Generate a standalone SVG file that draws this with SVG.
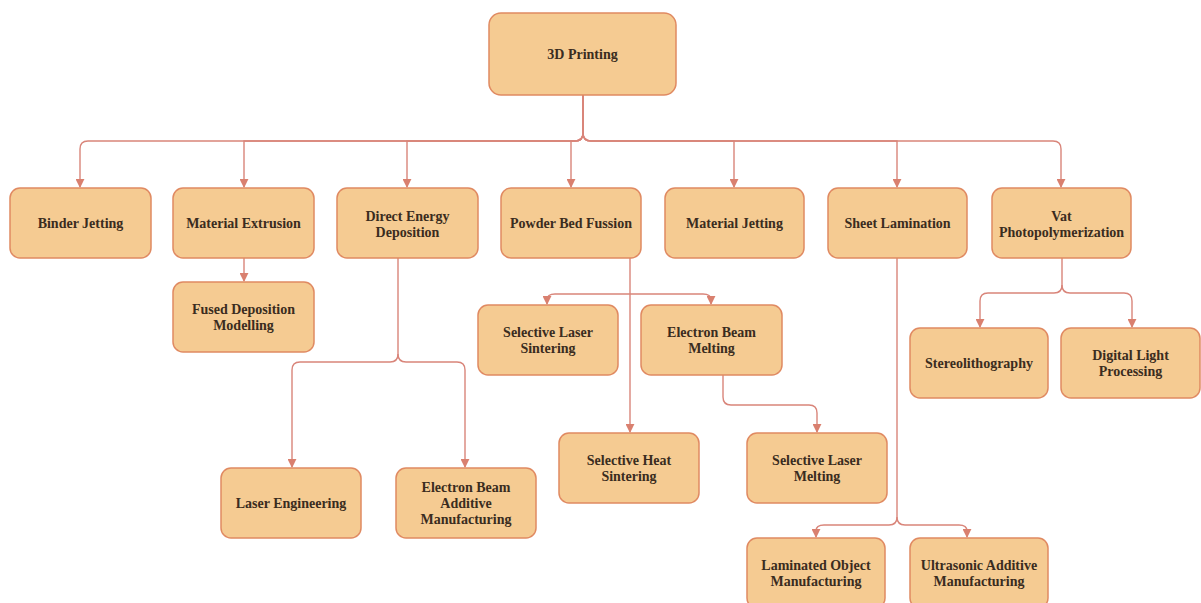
<svg xmlns="http://www.w3.org/2000/svg" width="1201" height="603" viewBox="0 0 1201 603">
  <style>
    .box { fill: #f5cb92; stroke: #e08a62; stroke-width: 1.5; }
    .lbl { font-family: "Liberation Serif", "Times New Roman", serif; font-weight: bold; font-size: 14px; fill: #3a2c20; text-anchor: middle; }
    .edge { fill: none; stroke: #d9857a; stroke-width: 1.4; marker-end: url(#arrow); }
  </style>
  <defs>
    <marker id="arrow" viewBox="0 0 10 10" refX="9" refY="5" markerWidth="9" markerHeight="9" markerUnits="userSpaceOnUse" orient="auto">
      <path d="M0,0 L10,5 L0,10 Z" fill="#d9806f"/>
    </marker>
  </defs>
  <rect width="1201" height="603" fill="#ffffff"/>

  <g id="connectors">
    <!-- root bus -->
    <path class="edge" d="M583,95 V133 Q583,141 575,141 H88 Q80,141 80,149 V187"/>
    <path class="edge" d="M583,95 V133 Q583,141 575,141 H244 V187"/>
    <path class="edge" d="M583,95 V133 Q583,141 575,141 H407 V187"/>
    <path class="edge" d="M583,95 V133 Q583,141 575,141 H571 V187"/>
    <path class="edge" d="M583,95 V133 Q583,141 591,141 H734 V187"/>
    <path class="edge" d="M583,95 V133 Q583,141 591,141 H897 V187"/>
    <path class="edge" d="M583,95 V133 Q583,141 591,141 H1053 Q1061,141 1061,149 V187"/>
    <!-- material extrusion -->
    <path class="edge" d="M244,258 V281"/>
    <!-- direct energy deposition -->
    <path class="edge" d="M398,258 V354 Q398,362 390,362 H300 Q292,362 292,370 V467"/>
    <path class="edge" d="M398,354 Q398,362 406,362 H457 Q465,362 465,370 V467"/>
    <!-- powder bed fussion -->
    <path class="edge" d="M630,258 V432"/>
    <path class="edge" d="M630,294 H555 Q547,294 547,300 V304"/>
    <path class="edge" d="M630,294 H703 Q711,294 711,300 V304"/>
    <!-- electron beam melting -->
    <path class="edge" d="M723,375 V397 Q723,405 731,405 H809 Q817,405 817,413 V432"/>
    <!-- sheet lamination -->
    <path class="edge" d="M897,258 V517 Q897,525 889,525 H824 Q816,525 816,531 V537"/>
    <path class="edge" d="M897,517 Q897,525 905,525 H959 Q967,525 967,531 V537"/>
    <!-- vat photopolymerization -->
    <path class="edge" d="M1062,258 V285 Q1062,293 1054,293 H988 Q980,293 980,301 V327"/>
    <path class="edge" d="M1062,285 Q1062,293 1070,293 H1124 Q1132,293 1132,301 V327"/>
  </g>

  <g id="n-root">
    <rect class="box" x="489" y="13" width="187" height="82" rx="12"/>
    <text class="lbl" x="582.5" y="59">3D Printing</text>
  </g>

  <g id="n-binder">
    <rect class="box" x="10" y="188" width="141" height="70" rx="10"/>
    <text class="lbl" x="80.5" y="228">Binder Jetting</text>
  </g>
  <g id="n-extrusion">
    <rect class="box" x="173" y="188" width="141" height="70" rx="10"/>
    <text class="lbl" x="243.5" y="228">Material Extrusion</text>
  </g>
  <g id="n-ded">
    <rect class="box" x="337" y="188" width="141" height="70" rx="10"/>
    <text class="lbl" x="407.5" y="221">Direct Energy</text>
    <text class="lbl" x="407.5" y="237">Deposition</text>
  </g>
  <g id="n-pbf">
    <rect class="box" x="501" y="188" width="140" height="70" rx="10"/>
    <text class="lbl" x="571" y="228">Powder Bed Fussion</text>
  </g>
  <g id="n-jetting">
    <rect class="box" x="665" y="188" width="139" height="70" rx="10"/>
    <text class="lbl" x="734.5" y="228">Material Jetting</text>
  </g>
  <g id="n-sheet">
    <rect class="box" x="828" y="188" width="139" height="70" rx="10"/>
    <text class="lbl" x="897.5" y="228">Sheet Lamination</text>
  </g>
  <g id="n-vat">
    <rect class="box" x="992" y="188" width="139" height="70" rx="10"/>
    <text class="lbl" x="1061.5" y="221">Vat</text>
    <text class="lbl" x="1061.5" y="237">Photopolymerization</text>
  </g>

  <g id="n-fdm">
    <rect class="box" x="173" y="282" width="141" height="70" rx="10"/>
    <text class="lbl" x="243.5" y="314">Fused Deposition</text>
    <text class="lbl" x="243.5" y="330">Modelling</text>
  </g>

  <g id="n-sls">
    <rect class="box" x="478" y="305" width="140" height="70" rx="10"/>
    <text class="lbl" x="548" y="337">Selective Laser</text>
    <text class="lbl" x="548" y="353">Sintering</text>
  </g>
  <g id="n-ebm">
    <rect class="box" x="641" y="305" width="141" height="70" rx="10"/>
    <text class="lbl" x="711.5" y="337">Electron Beam</text>
    <text class="lbl" x="711.5" y="353">Melting</text>
  </g>

  <g id="n-stereo">
    <rect class="box" x="910" y="328" width="138" height="70" rx="10"/>
    <text class="lbl" x="979" y="368">Stereolithography</text>
  </g>
  <g id="n-dlp">
    <rect class="box" x="1061" y="328" width="139" height="70" rx="10"/>
    <text class="lbl" x="1130.5" y="360">Digital Light</text>
    <text class="lbl" x="1130.5" y="376">Processing</text>
  </g>

  <g id="n-shs">
    <rect class="box" x="559" y="433" width="140" height="70" rx="10"/>
    <text class="lbl" x="629" y="465">Selective Heat</text>
    <text class="lbl" x="629" y="481">Sintering</text>
  </g>
  <g id="n-slm">
    <rect class="box" x="747" y="433" width="140" height="70" rx="10"/>
    <text class="lbl" x="817" y="465">Selective Laser</text>
    <text class="lbl" x="817" y="481">Melting</text>
  </g>

  <g id="n-laser-eng">
    <rect class="box" x="221" y="468" width="140" height="70" rx="10"/>
    <text class="lbl" x="291" y="508">Laser Engineering</text>
  </g>
  <g id="n-ebam">
    <rect class="box" x="396" y="468" width="140" height="70" rx="10"/>
    <text class="lbl" x="466" y="492">Electron Beam</text>
    <text class="lbl" x="466" y="508">Additive</text>
    <text class="lbl" x="466" y="524">Manufacturing</text>
  </g>

  <g id="n-lom">
    <rect class="box" x="747" y="538" width="138" height="70" rx="10"/>
    <text class="lbl" x="816" y="570">Laminated Object</text>
    <text class="lbl" x="816" y="586">Manufacturing</text>
  </g>
  <g id="n-uam">
    <rect class="box" x="910" y="538" width="138" height="70" rx="10"/>
    <text class="lbl" x="979" y="570">Ultrasonic Additive</text>
    <text class="lbl" x="979" y="586">Manufacturing</text>
  </g>
</svg>
